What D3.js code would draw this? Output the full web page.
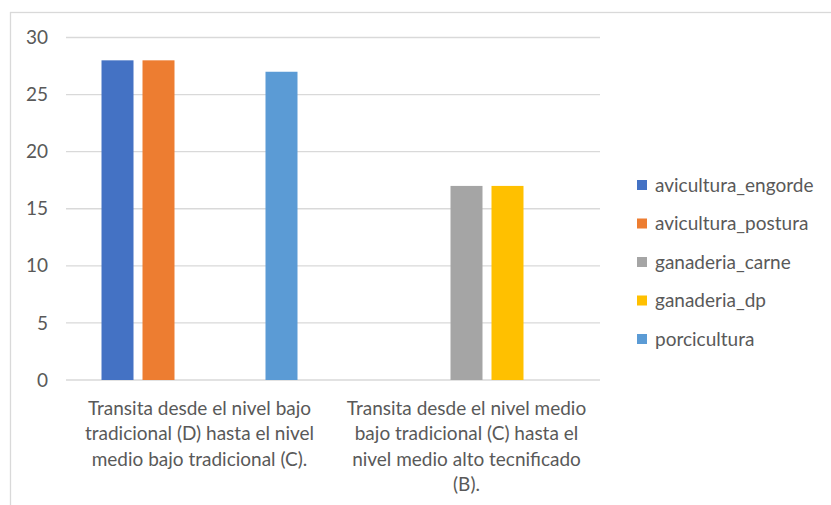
<!DOCTYPE html>
<html>
<head>
<meta charset="utf-8">
<script src="https://cdn.jsdelivr.net/npm/d3@7"></script>
<style>
  html, body { margin: 0; padding: 0; background: #fff; }
  svg { display: block; font-family: Lato, "Open Sans", sans-serif; }
</style>
</head>
<body>
<svg id="chart" width="831" height="505"></svg>
<script>
// Categories (wrapped onto lines as shown beneath the axis)
const categories = ["D-C", "C-B"];
const categoryLines = [
  ["Transita desde el nivel bajo", "tradicional (D) hasta el nivel", "medio bajo tradicional (C)."],
  ["Transita desde el nivel medio", "bajo tradicional (C) hasta el", "nivel medio alto tecnificado", "(B)."]
];
const seriesNames = ["avicultura_engorde", "avicultura_postura", "ganaderia_carne", "ganaderia_dp", "porcicultura"];
const seriesColors = ["#4472C4", "#ED7D31", "#A5A5A5", "#FFC000", "#5B9BD5"];
// values per series, one entry per category
const avicultura_engorde = [28, 0];
const avicultura_postura = [28, 0];
const ganaderia_carne = [0, 17];
const ganaderia_dp = [0, 17];
const porcicultura = [27, 0];
const values = [avicultura_engorde, avicultura_postura, ganaderia_carne, ganaderia_dp, porcicultura];
const yTicks = [0, 5, 10, 15, 20, 25, 30];

const svg = d3.select("#chart");
const textColor = "#595959";
const gridColor = "#d9d9d9";
const fontSize = 19;

// Chart frame
svg.append("rect")
  .attr("x", 10.5).attr("y", 12.5)
  .attr("width", 840).attr("height", 520)
  .attr("fill", "none").attr("stroke", gridColor).attr("stroke-width", 1.3);

const plot = { left: 66, right: 600, top: 37.5, bottom: 380 };

const y = d3.scaleLinear().domain([0, 30]).range([plot.bottom, plot.top]);
const x0 = d3.scaleBand().domain(categories).range([plot.left, plot.right]).padding(0);
const bw = x0.bandwidth();
const x1 = d3.scaleBand().domain(seriesNames).range([0, bw])
  .paddingInner(9 / 41).paddingOuter(0.866);

// Gridlines
svg.append("g").selectAll("line").data(yTicks).join("line")
  .attr("x1", plot.left).attr("x2", plot.right)
  .attr("y1", d => y(d)).attr("y2", d => y(d))
  .attr("stroke", gridColor).attr("stroke-width", 1.3);

// Y axis labels
const yAxis = d3.axisLeft(y).tickValues(yTicks).tickSize(0).tickPadding(0);
const gy = svg.append("g").attr("transform", "translate(48,0)").call(yAxis);
gy.select(".domain").remove();
gy.selectAll("text").attr("fill", textColor).attr("font-size", fontSize)
  .attr("font-family", "Lato, sans-serif");

// Bars
const groups = svg.append("g").selectAll("g").data(categories).join("g")
  .attr("transform", c => `translate(${x0(c)},0)`);
groups.selectAll("rect")
  .data((c, ci) => seriesNames.map((s, si) => ({ s, si, v: values[si][ci] })))
  .join("rect")
  .filter(d => d.v > 0)
  .attr("x", d => x1(d.s))
  .attr("width", x1.bandwidth())
  .attr("y", d => y(d.v))
  .attr("height", d => y(0) - y(d.v))
  .attr("fill", d => seriesColors[d.si]);

// Category labels
const catG = svg.append("g").selectAll("text").data(categories).join("text")
  .attr("x", c => x0(c) + bw / 2)
  .attr("text-anchor", "middle")
  .attr("fill", textColor)
  .attr("font-size", fontSize);
catG.each(function (c, i) {
  d3.select(this).selectAll("tspan").data(categoryLines[i]).join("tspan")
    .attr("x", x0(c) + bw / 2)
    .attr("y", (d, j) => 415 + j * 25.3)
    .text(d => d);
});

// Legend
const legend = svg.append("g").selectAll("g").data(seriesNames).join("g")
  .attr("transform", (d, i) => `translate(637,${185 + i * 38.5})`);
legend.append("rect")
  .attr("x", 0).attr("y", -5).attr("width", 10).attr("height", 10)
  .attr("fill", (d, i) => seriesColors[i]);
legend.append("text")
  .attr("x", 18).attr("y", 0).attr("dy", "0.35em")
  .attr("fill", textColor).attr("font-size", fontSize)
  .text(d => d);
</script>
</body>
</html>
